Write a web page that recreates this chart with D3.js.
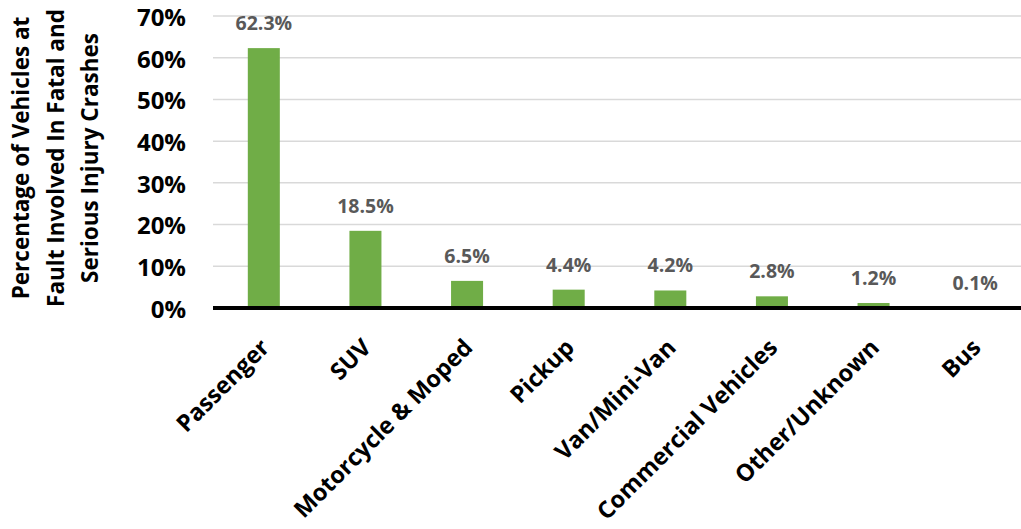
<!DOCTYPE html>
<html><head><meta charset="utf-8">
<script src="https://cdn.jsdelivr.net/npm/d3@7/dist/d3.min.js"></script>
<style>body{margin:0;background:#fff}svg{display:block}</style>
</head><body>
<svg id="c" width="1021" height="529"></svg>
<script>
const categories = ["Passenger","SUV","Motorcycle & Moped","Pickup","Van/Mini-Van","Commercial Vehicles","Other/Unknown","Bus"];
const values = [62.3,18.5,6.5,4.4,4.2,2.8,1.2,0.1];
const yTicks = [0,10,20,30,40,50,60,70];
const yTitle = ["Percentage of Vehicles at","Fault Involved In Fatal and","Serious Injury Crashes"];

const svg = d3.select("#c");
const font = "'Open Sans', Lato, sans-serif";
const x = d3.scaleBand().domain(categories).range([213, 1026]).paddingInner(0.685).paddingOuter(0.3425);
const y = d3.scaleLinear().domain([0,70]).range([308,16]);

// gridlines
svg.append("g").selectAll("line").data(yTicks.filter(d=>d>0)).join("line")
  .attr("x1",213).attr("x2",1021).attr("y1",d=>y(d)).attr("y2",d=>y(d))
  .attr("stroke","#d9d9d9").attr("stroke-width",1.5);

// y axis labels
const yAxis = d3.axisLeft(y).tickValues(yTicks).tickFormat(d=>d+"%").tickSize(0).tickPadding(0);
const ga = svg.append("g").attr("transform","translate(186,1)").call(yAxis);
ga.select(".domain").remove();
ga.selectAll("text").attr("font-family",font).attr("font-weight","bold").attr("font-size",24).attr("fill","#000").attr("dy","0.35em");

// bars
svg.append("g").selectAll("rect").data(values).join("rect")
  .attr("x",(d,i)=>x(categories[i])).attr("width",x.bandwidth())
  .attr("y",d=>y(d)).attr("height",d=>y(0)-y(d)).attr("fill","#70ad47");

// value labels
svg.append("g").selectAll("text").data(values).join("text")
  .attr("x",(d,i)=>x(categories[i])+x.bandwidth()/2).attr("y",d=>y(d)-18)
  .attr("text-anchor","middle").attr("font-family",font).attr("font-weight","bold")
  .attr("font-size",19.5).attr("fill","#595959").text(d=>d.toFixed(1)+"%");

// baseline
svg.append("line").attr("x1",213).attr("x2",1021).attr("y1",y(0)).attr("y2",y(0))
  .attr("stroke","#000").attr("stroke-width",4);

// x labels
const xAxis = d3.axisBottom(x).tickSize(0).tickPadding(0);
const gx = svg.append("g").attr("transform","translate(0,"+y(0)+")").call(xAxis);
gx.select(".domain").remove();
gx.selectAll("text").attr("font-family",font).attr("font-weight","bold").attr("font-size",23.5).attr("fill","#000")
  .attr("text-anchor","end").attr("dy",null)
  .attr("transform","translate(7,41) rotate(-45)");

// y title
svg.append("g").selectAll("text").data(yTitle).join("text")
  .attr("transform",(d,i)=>"translate("+(29+i*34.5)+",158) rotate(-90)")
  .attr("text-anchor","middle").attr("font-family",font).attr("font-weight","bold")
  .attr("font-size",22.5).attr("fill","#000").text(d=>d);
</script>
</body></html>
